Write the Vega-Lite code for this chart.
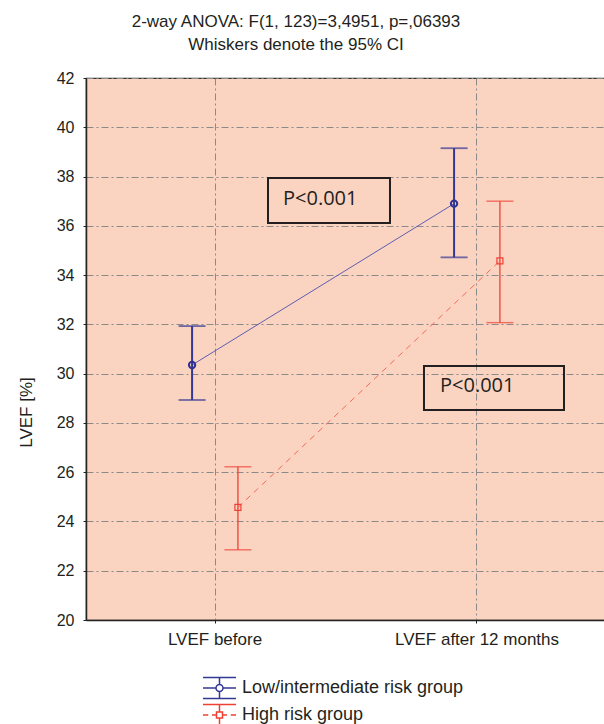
{
  "$schema": "https://vega.github.io/schema/vega-lite/v6.json",
  "width": 520,
  "height": 542,
  "autosize": {"type": "none"},
  "padding": {"left": 86, "top": 78, "right": 0, "bottom": 104},
  "background": "white",
  "title": {
    "text": ["2-way ANOVA: F(1, 123)=3,4951, p=,06393", "Whiskers denote the 95% CI"],
    "font": "Liberation Sans",
    "fontSize": 17,
    "fontWeight": "normal",
    "color": "#231f20",
    "anchor": "middle",
    "frame": "group",
    "dx": -50,
    "dy": 28,
    "lineHeight": 23,
    "baseline": "bottom",
    "offset": 27
  },
  "config": {
    "font": "Liberation Sans",
    "view": {"fill": "#fbd3c1", "stroke": "#333333", "strokeWidth": 1.2},
    "axis": {
      "domainColor": "#222222",
      "domainWidth": 1.5,
      "tickColor": "#222222",
      "tickSize": 3,
      "labelColor": "#231f20",
      "labelFont": "Liberation Sans",
      "titleFont": "Liberation Sans",
      "gridColor": "#8a8a8a",
      "gridDash": [7, 3, 2, 3],
      "gridWidth": 1,
      "gridOpacity": 1
    }
  },
  "data": {
    "values": [
      {"time": "LVEF before", "group": "Low/intermediate risk group", "mean": 30.35, "lo": 28.93, "hi": 31.93},
      {"time": "LVEF after 12 months", "group": "Low/intermediate risk group", "mean": 36.9, "lo": 34.72, "hi": 39.15},
      {"time": "LVEF before", "group": "High risk group", "mean": 24.57, "lo": 22.85, "hi": 26.22},
      {"time": "LVEF after 12 months", "group": "High risk group", "mean": 34.58, "lo": 32.07, "hi": 37.0}
    ]
  },
  "layer": [
    {
      "encoding": {
        "x": {
          "field": "time",
          "type": "nominal",
          "sort": ["LVEF before", "LVEF after 12 months"],
          "scale": {"type": "band", "domain": ["LVEF before", "LVEF after 12 months"], "paddingInner": 0.3, "paddingOuter": 0.1424},
          "axis": {"title": null, "labelAngle": 0, "labelFontSize": 17, "labelPadding": 8, "grid": true, "bandPosition": 0.5, "tickBand": "center"}
        },
        "xOffset": {
          "field": "group",
          "type": "nominal",
          "scale": {"type": "band", "domain": ["Low/intermediate risk group", "High risk group"], "paddingInner": 0, "paddingOuter": 1.2925}
        }
      },
      "layer": [
        {
          "transform": [{"filter": "datum.group === 'Low/intermediate risk group'"}],
          "mark": {"type": "line", "color": "#5d5db0", "strokeWidth": 1},
          "encoding": {
            "y": {"field": "mean", "type": "quantitative", "scale": {"domain": [20, 42], "nice": false, "zero": false}, "title": "LVEF [%]", "axis": {"values": [20, 22, 24, 26, 28, 30, 32, 34, 36, 38, 40, 42], "labelFontSize": 16, "labelPadding": 9, "grid": true, "titleFontSize": 17, "titleFontWeight": "normal", "titleColor": "#231f20", "titleX": -60, "titleY": 334, "titleAngle": -90, "titleAlign": "center", "titleBaseline": "middle"}}
          }
        },
        {
          "transform": [{"filter": "datum.group === 'High risk group'"}],
          "mark": {"type": "line", "color": "#f26b5b", "strokeWidth": 1, "strokeDash": [6, 5]},
          "encoding": {
            "y": {"field": "mean", "type": "quantitative", "title": "LVEF [%]"}
          }
        },
        {
          "transform": [{"filter": "datum.group === 'Low/intermediate risk group'"}],
          "mark": {"type": "rule", "color": "#333894", "strokeWidth": 2},
          "encoding": {
            "y": {"field": "lo", "type": "quantitative", "title": "LVEF [%]"},
            "y2": {"field": "hi"}
          }
        },
        {
          "transform": [{"filter": "datum.group === 'High risk group'"}],
          "mark": {"type": "rule", "color": "#ee4035", "strokeWidth": 1.3},
          "encoding": {
            "y": {"field": "lo", "type": "quantitative", "title": "LVEF [%]"},
            "y2": {"field": "hi"}
          }
        },
        {
          "transform": [{"filter": "datum.group === 'Low/intermediate risk group'"}],
          "mark": {"type": "tick", "size": 27, "thickness": 1.8, "color": "#333894"},
          "encoding": {
            "y": {"field": "hi", "type": "quantitative", "title": "LVEF [%]"}
          }
        },
        {
          "transform": [{"filter": "datum.group === 'Low/intermediate risk group'"}],
          "mark": {"type": "tick", "size": 27, "thickness": 1.8, "color": "#333894"},
          "encoding": {
            "y": {"field": "lo", "type": "quantitative", "title": "LVEF [%]"}
          }
        },
        {
          "transform": [{"filter": "datum.group === 'High risk group'"}],
          "mark": {"type": "tick", "size": 27, "thickness": 1.4, "color": "#ee4035"},
          "encoding": {
            "y": {"field": "hi", "type": "quantitative", "title": "LVEF [%]"}
          }
        },
        {
          "transform": [{"filter": "datum.group === 'High risk group'"}],
          "mark": {"type": "tick", "size": 27, "thickness": 1.4, "color": "#ee4035"},
          "encoding": {
            "y": {"field": "lo", "type": "quantitative", "title": "LVEF [%]"}
          }
        },
        {
          "transform": [{"filter": "datum.group === 'Low/intermediate risk group'"}],
          "mark": {"type": "point", "shape": "circle", "size": 40, "strokeWidth": 2, "filled": false, "color": "#2e3192", "opacity": 1},
          "encoding": {
            "y": {"field": "mean", "type": "quantitative", "title": "LVEF [%]"}
          }
        },
        {
          "transform": [{"filter": "datum.group === 'High risk group'"}],
          "mark": {"type": "point", "shape": "square", "size": 36, "strokeWidth": 1.2, "filled": false, "color": "#ee4035", "opacity": 1},
          "encoding": {
            "y": {"field": "mean", "type": "quantitative", "title": "LVEF [%]"}
          }
        }
      ]
    },
    {
      "data": {
        "values": [
          {"label": "P<0.001", "bx1": 1.2023, "bx2": 1.6679, "by1": 37.94, "by2": 36.115, "tx": 1.2595, "ty": 37.07},
          {"label": "P<0.001", "bx1": 1.7977, "bx2": 2.3321, "by1": 30.31, "by2": 28.52, "tx": 1.8588, "ty": 29.48}
        ]
      },
      "layer": [
        {
          "mark": {"type": "rect", "fill": null, "fillOpacity": 0, "stroke": "#231f20", "strokeWidth": 2},
          "encoding": {
            "x": {"field": "bx1", "type": "quantitative", "scale": {"domain": [0.5076, 2.4924], "nice": false, "zero": false}, "axis": null},
            "x2": {"field": "bx2"},
            "y": {"field": "by1", "type": "quantitative", "title": "LVEF [%]"},
            "y2": {"field": "by2"}
          }
        },
        {
          "mark": {"type": "text", "align": "left", "baseline": "middle", "font": "Open Sans", "fontSize": 20, "color": "#231f20"},
          "encoding": {
            "x": {"field": "tx", "type": "quantitative", "axis": null},
            "y": {"field": "ty", "type": "quantitative", "title": "LVEF [%]"},
            "text": {"field": "label"}
          }
        }
      ]
    },
    {
      "mark": {"type": "point", "filled": false, "strokeOpacity": 0},
      "encoding": {
        "y": {"field": "mean", "type": "quantitative", "title": "LVEF [%]"},
        "color": {
          "field": "group", "type": "nominal", "title": null,
          "scale": {"domain": ["Low/intermediate risk group", "High risk group"], "range": ["#333894", "#ee4035"]},
          "legend": {"orient": "none", "legendX": 120, "legendY": 596.5, "direction": "vertical", "title": null, "padding": 0, "rowPadding": 0, "symbolSize": 625, "symbolStrokeWidth": 1.5, "symbolOpacity": 1, "symbolStrokeOpacity": 1, "symbolFillColor": "transparent", "labelFontSize": 18, "labelOffset": 9, "labelColor": "#231f20", "labelFont": "Liberation Sans", "labelLimit": 400}
        },
        "shape": {
          "field": "group", "type": "nominal", "title": null,
          "scale": {"domain": ["Low/intermediate risk group", "High risk group"], "range": [
            "M-1.32,-0.84H1.32M0,-0.84V-0.28M0,0.28V0.84M-1.32,0.84H1.32M-1.32,0H-0.28M0.28,0H1.32M-0.28,0A0.28,0.28 0 1,0 0.28,0A0.28,0.28 0 1,0 -0.28,0",
            "M-1.32,-0.84H1.32M0,-0.84V-0.24M0,0.24V0.84M-1.32,0.84H1.32M-1.32,0H-0.9M-0.6,0H-0.24M0.24,0H0.6M0.9,0H1.32M-0.24,-0.24H0.24V0.24H-0.24Z"
          ]},
          "legend": {"orient": "none", "legendX": 120, "legendY": 596.5, "direction": "vertical", "title": null, "padding": 0, "rowPadding": 0, "symbolSize": 625, "symbolStrokeWidth": 1.5, "symbolOpacity": 1, "symbolStrokeOpacity": 1, "symbolFillColor": "transparent", "labelFontSize": 18, "labelOffset": 9, "labelColor": "#231f20", "labelFont": "Liberation Sans", "labelLimit": 400}
        }
      }
    }
  ],
  "resolve": {"scale": {"x": "independent"}}
}
